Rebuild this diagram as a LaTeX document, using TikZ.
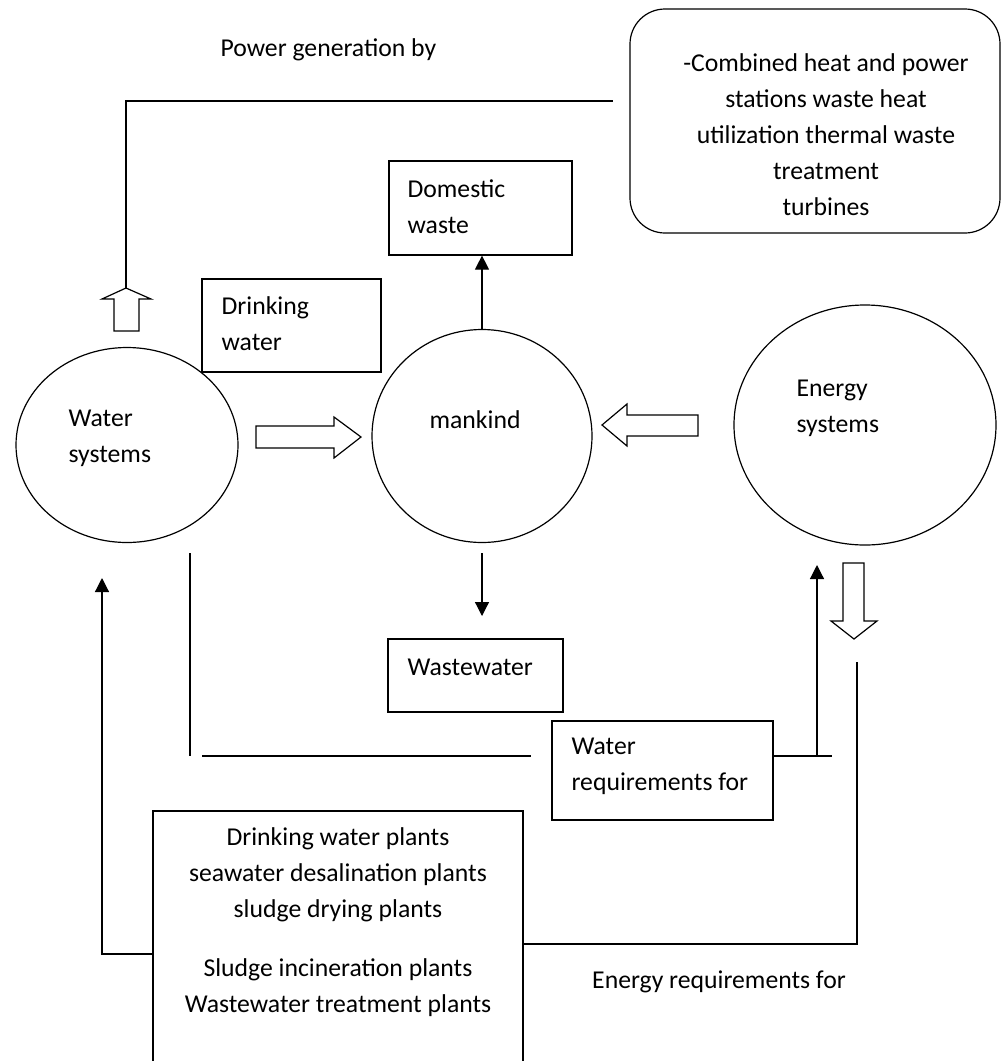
\documentclass[tikz,border=0pt]{standalone}
\usepackage{fontspec}
\setmainfont{Carlito}
\usetikzlibrary{arrows.meta}
\usetikzlibrary{shapes.geometric}

\tikzset{
	sys/.style={draw, ellipse, inner sep=0pt},
	box/.style={draw, rectangle, inner sep=0pt},
	lbl/.style={inner sep=0pt, anchor=west, align=left},
	flow/.style={-{Triangle[length=14pt,width=14pt]}},
}

\begin{document}
\begin{tikzpicture}[x=1pt,y=-1pt,line width=1.2pt,font=\fontsize{25.7pt}{36pt}\selectfont]
	\path[use as bounding box, clip] (0,0) rectangle (1005,1061);
	\node[sys, minimum width=222pt, minimum height=195pt] (water) at (127,445) {};
	\node[sys, minimum width=220pt, minimum height=213pt] (mankind) at (482,436) {};
	\node[sys, minimum width=262pt, minimum height=240pt] (energy) at (865,425) {};
	\node[box, minimum width=183pt, minimum height=94pt] (domestic) at (480.5,208) {};
	\node[box, minimum width=179pt, minimum height=93pt] (drinking) at (291.5,325.5) {};
	\node[box, minimum width=175pt, minimum height=73pt] (wastewater) at (475.5,675.5) {};
	\node[box, minimum width=221pt, minimum height=99pt] (waterreq) at (662.5,770.5) {};
	\node[box, minimum width=370pt, minimum height=269pt] (plants) at (338,945.5) {};
	\node[box, rounded corners=35pt, minimum width=370pt, minimum height=224pt] (chp) at (815,121) {};
	\node[lbl] (watertxt) at (68,438.5) {Water\\systems};
	\node[lbl] (mankindtxt) at (429,420) {mankind};
	\node[lbl] (energytxt) at (796,408.5) {Energy\\systems};
	\node[lbl] (domestictxt) at (407,206.5) {Domestic\\waste};
	\node[lbl] (drinkingtxt) at (221,323.5) {Drinking\\water};
	\node[lbl] (wastewatertxt) at (407,667) {Wastewater};
	\node[lbl] (waterreqtxt) at (571,766.5) {Water\\requirements for};
	\node[lbl] (powertxt) at (220,50) {Power generation by};
	\node[inner sep=0pt, align=center] (chptxt) at (826,135) {-Combined heat and power\\stations waste heat\\utilization thermal waste\\treatment\\turbines};
	\node[inner sep=0pt, align=center] (plantstxt) at (338,922) {Drinking water plants\\seawater desalination plants\\sludge drying plants\\[23pt]Sludge incineration plants\\Wastewater treatment plants};
	\node[inner sep=0pt] (energyreqtxt) at (719,982) {Energy requirements for};
	\draw (256,426) -- (334,426) -- (334,417) -- (361,437) -- (334,458) -- (334,448) -- (256,448) -- cycle;
	\draw (698,415) -- (627,415) -- (627,404) -- (602,425) -- (627,446) -- (627,436) -- (698,436) -- cycle;
	\draw (114,331) -- (114,299) -- (102,299) -- (126,288) -- (151,299) -- (139,299) -- (139,331) -- cycle;
	\draw (843,563) -- (843,621) -- (831,621) -- (854,639) -- (877,621) -- (864,621) -- (864,563) -- cycle;
	\coordinate (uptip) at (126,288);
	\coordinate (powerend) at (613,101);
	\draw (uptip) |- (powerend);
	\draw[flow] (mankind.north) -- (mankind.north |- domestic.south);
	\coordinate (wwtop) at (482,553);
	\coordinate (wwtip) at (482,616);
	\draw[flow] (wwtop) -- (wwtip);
	\coordinate (lefttop) at (190,553);
	\coordinate (leftbot) at (190,756);
	\draw (lefttop) -- (leftbot);
	\coordinate (wrun) at (202,756);
	\coordinate (wrunend) at (531,756);
	\draw (wrun) -- (wrunend);
	\coordinate (wreqout) at (832,756);
	\draw (waterreq.east |- wreqout) -- (wreqout);
	\coordinate (wreqtip) at (817,565);
	\draw[flow] (wreqtip |- wreqout) -- (wreqtip);
	\coordinate (ereqtop) at (857,662);
	\draw (ereqtop) |- (plants.east |- 0,944);
	\coordinate (fbtip) at (102,578);
	\draw[flow] (plants.west |- 0,954) -| (fbtip);
\end{tikzpicture}
\end{document}
